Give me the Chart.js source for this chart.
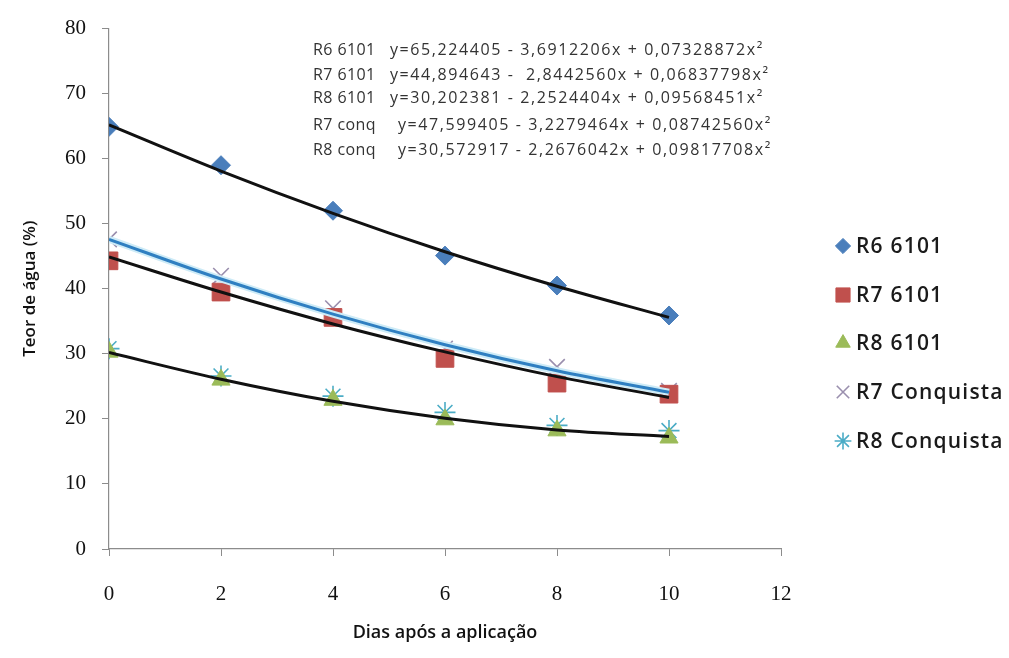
<!DOCTYPE html>
<html>
<head>
<meta charset="utf-8">
<script src="https://cdn.jsdelivr.net/npm/chart.js@4.4.0/dist/chart.umd.min.js"></script>
<style>
  html, body { margin: 0; padding: 0; background: #fff; }
  #wrap { width: 1009px; height: 658px; position: relative; }
</style>
</head>
<body>
<div id="wrap"><canvas id="water-chart"></canvas></div>
<script>
// days after application
const days = [0, 2, 4, 6, 8, 10];

// observed water content (%)
const r6_6101 = [64.9, 59.0, 52.0, 45.1, 40.5, 35.9];
const r7_6101 = [44.3, 39.5, 35.6, 29.3, 25.5, 23.8];
const r8_6101 = [30.3, 26.0, 22.9, 19.9, 18.2, 17.1];
const r7_conq = [47.6, 42.0, 37.0, 30.8, 28.0, 24.3];
const r8_conq = [30.8, 26.6, 23.5, 21.0, 19.0, 18.2];

// fitted curves
const fit_r6 = [65.2, 58.1, 51.6, 45.7, 40.4, 35.6];
const fit_r7 = [44.9, 39.5, 34.6, 30.3, 26.5, 23.3];
const fit_r8 = [30.2, 26.1, 22.7, 20.1, 18.3, 17.3];
const fit_r7c = [47.6, 41.5, 36.1, 31.4, 27.4, 24.1];

const seriesNames = ['R6 6101', 'R7 6101', 'R8 6101', 'R7 Conquista', 'R8 Conquista'];
const eqNames = ['R6 6101', 'R7 6101', 'R8 6101', 'R7 conq', 'R8 conq'];
const eqTexts = [
  'y=65,224405 - 3,6912206x + 0,07328872x²',
  'y=44,894643 -  2,8442560x + 0,06837798x²',
  'y=30,202381 - 2,2524404x + 0,09568451x²',
  'y=47,599405 - 3,2279464x + 0,08742560x²',
  'y=30,572917 - 2,2676042x + 0,09817708x²'
];
const yTicks = [0, 10, 20, 30, 40, 50, 60, 70, 80];
const xTicks = [0, 2, 4, 6, 8, 10, 12];

const pts = (ys) => days.map((d, i) => ({ x: d, y: ys[i] }));

const markerStyles = [
  { pointStyle: 'rectRot', radius: 9.5, color: '#4A7EBB', fill: true },
  { pointStyle: 'rect', radius: 12.5, color: '#C0504D', fill: true },
  { pointStyle: 'triangle', radius: 10.5, color: '#9BBB59', fill: true },
  { pointStyle: 'crossRot', radius: 11, color: '#9A8FAE', fill: false },
  { pointStyle: 'star', radius: 10.5, color: '#4BACC6', fill: false }
];
const observed = [r6_6101, r7_6101, r8_6101, r7_conq, r8_conq];

const markerSets = observed.map((ys, i) => ({
  label: seriesNames[i],
  data: pts(ys),
  showLine: false,
  pointStyle: markerStyles[i].pointStyle,
  pointRadius: markerStyles[i].radius,
  pointHoverRadius: markerStyles[i].radius,
  pointBackgroundColor: markerStyles[i].color,
  pointBorderColor: markerStyles[i].color,
  pointBorderWidth: markerStyles[i].fill ? 1 : 1.6,
  order: 3
}));

const lineSet = (label, ys, color, width, order) => ({
  label: label,
  data: pts(ys),
  showLine: true,
  borderColor: color,
  borderWidth: width,
  pointRadius: 0,
  cubicInterpolationMode: 'monotone',
  fill: false,
  order: order
});

const trendSets = [
  lineSet('fit R6', fit_r6, '#111111', 3, 1),
  lineSet('fit R7', fit_r7, '#111111', 3, 1),
  lineSet('fit R8', fit_r8, '#111111', 3, 1),
  lineSet('halo R7c', fit_r7c, '#CDEBF7', 7, 2),
  lineSet('fit R7c', fit_r7c, '#2F7FC1', 3, 1.5)
];

// legend + equations drawn on the canvas
const extrasPlugin = {
  id: 'extras',
  afterDraw(chart) {
    const ctx = chart.ctx;
    ctx.save();
    ctx.textBaseline = 'middle';
    // legend
    const legendY = [246, 295, 343, 392, 441];
    ctx.font = '600 21px "Open Sans"';
    ctx.letterSpacing = '1.2px';
    seriesNames.forEach((name, i) => {
      const m = markerStyles[i];
      ctx.fillStyle = m.color;
      ctx.strokeStyle = m.color;
      ctx.lineWidth = m.fill ? 1 : 1.6;
      Chart.helpers.drawPoint(ctx, { pointStyle: m.pointStyle, radius: m.radius * 0.8, rotation: 0, borderWidth: ctx.lineWidth }, 843, legendY[i]);
      ctx.fillStyle = '#1a1a1a';
      ctx.fillText(name, 856, legendY[i] + 1);
    });
    // regression equations
    const eqY = [50, 75, 98, 125, 150];
    ctx.font = '16px "Open Sans"';
    ctx.fillStyle = '#333333';
    eqNames.forEach((name, i) => {
      ctx.letterSpacing = '0.4px';
      ctx.fillText(name, 313, eqY[i]);
      ctx.letterSpacing = '1.6px';
      ctx.fillText(eqTexts[i], i < 3 ? 390 : 398, eqY[i]);
    });
    ctx.restore();
  }
};

const axisColor = '#8c8c8c';

new Chart(document.getElementById('water-chart'), {
  type: 'scatter',
  data: { datasets: markerSets.concat(trendSets) },
  options: {
    responsive: true,
    maintainAspectRatio: false,
    animation: false,
    layout: { padding: { top: 24, right: 228, bottom: 0, left: 0 } },
    scales: {
      x: {
        type: 'linear',
        min: 0,
        max: 12,
        afterFit: (s) => { s.height = 109; },
        afterBuildTicks: (s) => { s.ticks = xTicks.map(v => ({ value: v })); },
        border: { color: axisColor, width: 1.2 },
        grid: { drawOnChartArea: false, drawTicks: true, tickLength: 7, color: axisColor },
        ticks: {
          padding: 26,
          color: '#111',
          font: { family: '"Liberation Serif"', size: 21 }
        },
        title: {
          display: true,
          text: 'Dias após a aplicação',
          color: '#111',
          padding: { top: 0, bottom: 14 },
          font: { family: '"Open Sans"', size: 18, weight: '600' }
        }
      },
      y: {
        type: 'linear',
        min: 0,
        max: 80,
        afterFit: (s) => { s.width = 109; },
        afterBuildTicks: (s) => { s.ticks = yTicks.map(v => ({ value: v })); },
        border: { color: axisColor, width: 1.2 },
        grid: { drawOnChartArea: false, drawTicks: true, tickLength: 7, color: axisColor },
        ticks: {
          padding: 16,
          color: '#111',
          font: { family: '"Liberation Serif"', size: 21 }
        },
        title: {
          display: true,
          text: 'Teor de água (%)',
          color: '#111',
          padding: { top: 20, bottom: 0 },
          font: { family: '"Open Sans"', size: 17, weight: '600' }
        }
      }
    },
    plugins: {
      legend: { display: false },
      tooltip: { enabled: false }
    }
  },
  plugins: [extrasPlugin]
});
</script>
</body>
</html>
